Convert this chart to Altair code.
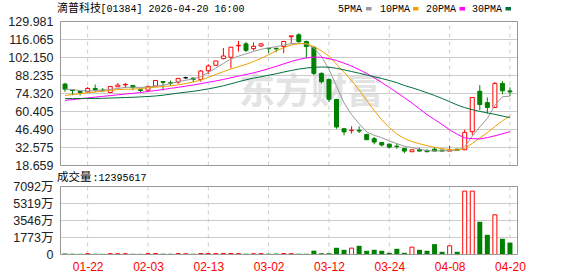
import altair as alt
import pandas as pd

# ---------------- data ----------------
dates = ["01-19", "01-20", "01-21", "01-22", "01-23", "01-26", "01-27", "01-28", "01-29", "01-30",
         "02-02", "02-03", "02-04", "02-05", "02-06", "02-09", "02-10", "02-11", "02-12", "02-13",
         "02-16", "02-20", "02-23", "02-24", "02-25", "02-26", "02-27", "03-02", "03-03", "03-04",
         "03-05", "03-06", "03-09", "03-10", "03-11", "03-12", "03-13", "03-16", "03-17", "03-18",
         "03-19", "03-20", "03-23", "03-24", "03-25", "03-26", "03-27", "03-30", "03-31", "04-01",
         "04-02", "04-08", "04-09", "04-10", "04-13", "04-14", "04-15", "04-16", "04-17", "04-20"]

opens = [81.6, 76.9, 75.9, 75.6, 78.2, 77.0, 75.1, 79.5, 81.0, 80.5,
         77.2, 76.9, 80.0, 83.6, 82.6, 83.1, 86.5, 86.2, 85.2, 91.9,
         96.1, 101.3, 102.3, 111.2, 112.7, 109.0, 111.1, 109.3, 109.3, 110.6,
         118.2, 119.7, 114.5, 110.1, 89.9, 85.2, 69.7, 47.1, 45.6, 45.9,
         42.7, 39.4, 36.5, 35.2, 33.6, 31.9, 29.3, 30.8, 30.3, 31.3,
         30.6, 29.8, 31.3, 30.8, 44.8, 76.1, 67.3, 63.5, 82.1, 76.3]
closes = [77.7, 76.6, 75.1, 78.2, 77.2, 76.6, 79.8, 80.8, 81.4, 79.0,
          76.7, 79.8, 84.4, 82.9, 82.2, 86.0, 86.5, 85.2, 91.7, 95.6,
          99.5, 103.3, 110.1, 111.6, 107.7, 110.8, 112.7, 109.0, 108.8, 114.5,
          118.9, 114.5, 110.6, 89.9, 83.4, 69.9, 48.4, 44.6, 45.9, 45.3,
          38.6, 36.8, 34.5, 32.9, 33.2, 29.8, 30.8, 29.8, 29.3, 29.8,
          29.8, 30.8, 30.3, 44.3, 71.2, 65.8, 63.5, 82.1, 76.4, 75.6]
highs = [82.6, 77.0, 75.9, 79.3, 81.3, 78.5, 80.0, 82.4, 82.4, 80.6,
         77.7, 80.3, 84.4, 83.6, 84.4, 86.0, 87.3, 86.8, 92.5, 96.9,
         99.5, 109.5, 110.1, 115.0, 114.2, 113.7, 113.2, 109.3, 109.3, 115.0,
         118.9, 120.9, 115.2, 110.6, 90.6, 86.0, 70.2, 47.1, 49.0, 49.0,
         42.7, 40.7, 36.5, 35.5, 35.5, 31.9, 30.8, 32.4, 31.3, 32.9,
         30.6, 33.9, 31.3, 46.4, 71.2, 80.8, 71.2, 83.1, 83.9, 79.0]
lows = [75.6, 73.0, 72.8, 75.1, 75.6, 75.9, 74.9, 79.5, 78.7, 76.9,
        75.4, 76.4, 79.8, 76.7, 80.3, 81.8, 85.7, 83.1, 83.4, 89.4,
        96.1, 100.7, 93.8, 106.7, 106.4, 107.5, 110.3, 105.4, 106.2, 105.4,
        112.7, 113.2, 101.5, 88.6, 82.1, 67.9, 47.1, 42.0, 43.3, 43.8,
        38.6, 35.0, 33.4, 31.9, 31.6, 28.2, 29.3, 29.8, 29.3, 29.8,
        29.8, 29.8, 30.3, 30.8, 42.0, 61.4, 58.8, 63.5, 73.8, 72.3]

ma5 = [77.7, 77.4, 76.6, 76.2, 76.6, 76.9, 77.4, 78.2, 79.0, 79.2,
       79.0, 79.3, 80.0, 80.8, 82.0, 83.4, 84.6, 85.5, 87.5, 90.5,
       94.0, 97.5, 101.0, 103.2, 105.0, 106.8, 108.5, 109.6, 110.5, 111.8,
       112.8, 113.3, 112.5, 109.5, 103.0, 93.0, 80.0, 67.0, 58.0, 51.0,
       44.6, 42.0, 40.2, 37.6, 35.6, 33.6, 32.5, 31.3, 30.2, 29.9,
       29.9, 30.1, 30.2, 33.1, 41.3, 48.4, 55.1, 65.2, 71.8, 72.3]
ma10 = [72.8, 73.5, 74.2, 74.9, 75.5, 76.1, 76.7, 77.3, 77.6, 77.7,
        78.1, 78.7, 79.2, 79.7, 80.2, 81.0, 82.0, 83.2, 84.8, 86.8,
        89.0, 91.2, 93.3, 95.0, 96.8, 99.0, 101.5, 104.3, 107.2, 109.8,
        111.8, 112.8, 113.0, 110.5, 107.3, 103.2, 97.0, 90.6, 84.3, 77.1,
        69.0, 61.2, 54.0, 48.0, 43.0, 39.5, 37.2, 35.5, 34.0, 32.7,
        31.7, 31.0, 30.6, 31.9, 35.7, 40.0, 44.0, 48.8, 53.2, 57.0]
ma20 = [69.0, 69.6, 70.2, 70.9, 71.5, 72.1, 72.7, 73.3, 73.9, 74.4,
        75.1, 75.9, 76.6, 77.4, 78.3, 79.1, 80.0, 80.9, 81.9, 83.0,
        84.0, 85.2, 86.5, 87.8, 89.0, 90.3, 91.8, 93.5, 95.3, 97.2,
        99.1, 100.6, 101.8, 102.5, 102.3, 101.3, 99.8, 97.8, 95.5, 92.8,
        89.9, 86.5, 82.8, 79.0, 75.1, 71.1, 67.0, 62.5, 58.0, 54.2,
        50.4, 46.3, 42.8, 40.0, 39.4, 39.2, 40.2, 41.6, 43.2, 44.8]
ma30 = [70.4, 70.4, 70.5, 70.5, 70.5, 70.6, 70.8, 71.0, 71.2, 71.4,
        71.7, 72.0, 72.4, 73.0, 73.8, 74.6, 75.3, 76.0, 76.9, 77.9,
        79.0, 80.3, 81.8, 83.4, 84.9, 86.2, 87.3, 88.4, 89.6, 90.9,
        92.1, 93.2, 94.0, 94.6, 94.8, 94.6, 93.8, 92.6, 91.3, 90.0,
        88.6, 87.3, 85.9, 84.4, 82.7, 80.5, 78.8, 76.9, 74.9, 72.8,
        70.5, 68.0, 65.5, 63.4, 61.8, 60.5, 59.3, 58.2, 56.9, 55.6]

volumes = [95, 80, 70, 85, 75, 70, 90, 80, 85, 75,
           70, 90, 95, 85, 80, 90, 75, 80, 100, 95,
           90, 110, 100, 90, 85, 80, 90, 85, 95, 100,
           90, 85, 80, 400, 130, 130, 700, 490, 664, 907,
           386, 490, 386, 177, 595, 177, 768, 490, 386, 1082,
           282, 907, 282, 6612, 6612, 3411, 2055, 4142, 1638, 1239.5617]  # 万

price_ticks = [18.659, 32.575, 46.490, 60.405, 74.320, 88.235, 102.150, 116.065, 129.981]
volume_ticks = [0, 1773, 3546, 5319, 7092]
x_tick_idx = [3, 11, 19, 27, 35, 43, 51, 59]

title_name = "滴普科技"
title_rest = "[01384] 2026-04-20 16:00"
vol_label_cn = "成交量"
vol_label_num = ":12395617"
ma_names = ["5PMA", "10PMA", "20PMA", "30PMA"]
watermark = "东方财富"

# ---------------- styles / layout ----------------
RED, GREEN, BLACK = "#ff0000", "#008000", "#000000"
MA_COLORS = ["#999999", "#f0a000", "#ff00ff", "#00703c"]
GRID = "#cccccc"
FRAME = "#999999"
X_MIN, X_MAX = -0.6, 60.0
X_RANGE = [55.5, 522.5]
P_RANGE = [165.5, 21.5]
V_RANGE = [254.5, 186.5]
P_DOM = [price_ticks[0], price_ticks[-1]]
V_DOM = [volume_ticks[0], volume_ticks[-1]]
LEGEND_TEXT_X = [338, 380, 426, 472]
LEGEND_BOX_X = [366, 413, 459.5, 505.5]

n = len(dates)
df = pd.DataFrame({"i": list(range(n)), "open": opens, "close": closes, "high": highs,
                   "low": lows, "ma5": ma5, "ma10": ma10, "ma20": ma20, "ma30": ma30,
                   "vol": volumes})
df["dir"] = ["up" if c > o else ("down" if c < o else "flat") for o, c in zip(opens, closes)]

x_scale = alt.Scale(domain=[X_MIN, X_MAX], range=X_RANGE, nice=False, zero=False)
py_scale = alt.Scale(domain=P_DOM, range=P_RANGE, nice=False, zero=False)
vy_scale = alt.Scale(domain=V_DOM, range=V_RANGE, nice=False, zero=False)

label_expr = " : ".join(f"datum.value == {k} ? '{dates[k]}'" for k in x_tick_idx) + " : ''"
x_axis = alt.Axis(values=x_tick_idx, labelExpr=label_expr, orient="bottom", offset=-21,
                  domain=False, ticks=False, grid=False, labelColor=RED,
                  labelFont="Liberation Sans", labelFontSize=12, labelPadding=6, title=None,
                  labelFlush=False, labelOverlap=False, labelBound=False)
py_axis = alt.Axis(values=price_ticks, format=".3f", orient="left", offset=-55,
                   domain=False, ticks=False, grid=False, labelColor="#222222",
                   labelFont="Liberation Sans", labelFontSize=12.5, labelPadding=2, title=None,
                   labelFlush=False, labelOverlap=False, labelBound=False)
vy_axis = alt.Axis(values=volume_ticks, labelExpr="datum.value == 0 ? '0' : datum.value + '万'",
                   orient="left", offset=-55, domain=False, ticks=False, grid=False,
                   labelColor="#222222", labelFont="Liberation Sans, Noto Sans CJK SC",
                   labelFontSize=12.5, labelPadding=2, title=None,
                   labelFlush=False, labelOverlap=False, labelBound=False)


def X(f):
    return alt.X(f, type="quantitative", scale=x_scale, axis=x_axis)


def PY(f):
    return alt.Y(f, type="quantitative", scale=py_scale, axis=py_axis)


def VY(f):
    return alt.Y(f, type="quantitative", scale=vy_scale, axis=vy_axis)


one = pd.DataFrame({"a": [0]})
frame_p = pd.DataFrame({"x0": [X_MIN], "x1": [X_MAX], "y0": [P_DOM[0]], "y1": [P_DOM[1]]})
frame_v = pd.DataFrame({"x0": [X_MIN], "x1": [X_MAX], "y0": [V_DOM[0]], "y1": [V_DOM[1]]})
hgrid_p = pd.DataFrame({"y": price_ticks[1:-1], "x0": X_MIN, "x1": X_MAX})
hgrid_v = pd.DataFrame({"y": volume_ticks[1:-1], "x0": X_MIN, "x1": X_MAX})
vgrid_p = pd.DataFrame({"x": x_tick_idx, "y0": P_DOM[0], "y1": P_DOM[1]})
vgrid_v = pd.DataFrame({"x": x_tick_idx, "y0": V_DOM[0], "y1": V_DOM[1]})

# ---------------- price panel ----------------
wm = alt.Chart(one).mark_text(font="Noto Sans CJK SC", fontSize=36, fontWeight="bold",
                              color="#e3e3e3", align="center", baseline="middle").encode(
    x=alt.value(311), y=alt.value(93), text=alt.value(watermark))

p_hgrid = alt.Chart(hgrid_p).mark_rule(color=GRID, strokeWidth=1).encode(
    x=X("x0"), x2="x1", y=PY("y"))
p_vgrid = alt.Chart(vgrid_p).mark_rule(color=GRID, strokeWidth=1, strokeDash=[4, 4]).encode(
    x=X("x"), y=PY("y0"), y2="y1")

dir_stroke = alt.Stroke("dir:N", scale=alt.Scale(domain=["up", "down", "flat"],
                                                 range=[RED, GREEN, BLACK]), legend=None)
wicks = alt.Chart(df).mark_rule(strokeWidth=1).encode(
    x=X("i"), y=PY("low"), y2="high", stroke=dir_stroke)
body_up = alt.Chart(df).transform_filter("datum.dir == 'up'").mark_bar(
    orient="vertical", size=4, fill="white", stroke=RED, strokeWidth=1).encode(
    x=X("i"), y=PY("open"), y2="close")
body_dn = alt.Chart(df).transform_filter("datum.dir == 'down'").mark_bar(
    orient="vertical", size=4, fill=GREEN, stroke=GREEN, strokeWidth=1).encode(
    x=X("i"), y=PY("open"), y2="close")
body_fl = alt.Chart(df).transform_filter("datum.dir == 'flat'").mark_bar(
    orient="vertical", size=4, fill=BLACK, stroke=BLACK, strokeWidth=1).encode(
    x=X("i"), y=PY("open"), y2="close")

ma_layers = [alt.Chart(df).mark_line(color=c, strokeWidth=1, interpolate="linear").encode(
    x=X("i"), y=PY(f)) for f, c in zip(["ma5", "ma10", "ma20", "ma30"], MA_COLORS)]

p_frame = alt.Chart(frame_p).mark_rect(fillOpacity=0, stroke=FRAME, strokeWidth=1).encode(
    x=X("x0"), x2="x1", y=PY("y0"), y2="y1")

title1 = alt.Chart(one).mark_text(font="Noto Sans CJK SC", fontSize=11, color=BLACK,
                                  align="left", baseline="middle").encode(
    x=alt.value(57), y=alt.value(8.5), text=alt.value(title_name))
title2 = alt.Chart(one).mark_text(font="Liberation Mono", fontSize=10, color=BLACK,
                                  align="left", baseline="middle").encode(
    x=alt.value(100.5), y=alt.value(8.5), text=alt.value(title_rest))

legend_layers = []
for name, col, tx, bx in zip(ma_names, MA_COLORS, LEGEND_TEXT_X, LEGEND_BOX_X):
    legend_layers.append(alt.Chart(one).mark_text(
        font="Liberation Mono", fontSize=10, color=BLACK, align="left", baseline="middle").encode(
        x=alt.value(tx), y=alt.value(8.5), text=alt.value(name)))
    legend_layers.append(alt.Chart(one).mark_rect(color=col).encode(
        x=alt.value(bx), x2=alt.value(bx + 5.5), y=alt.value(7), y2=alt.value(10.5)))

price = alt.layer(wm, p_hgrid, p_vgrid, wicks, body_up, body_dn, body_fl, *ma_layers,
                  p_frame, title1, title2, *legend_layers)

# ---------------- volume panel ----------------
v_hgrid = alt.Chart(hgrid_v).mark_rule(color=GRID, strokeWidth=1).encode(
    x=X("x0"), x2="x1", y=VY("y"))
v_vgrid = alt.Chart(vgrid_v).mark_rule(color=GRID, strokeWidth=1, strokeDash=[4, 4]).encode(
    x=X("x"), y=VY("y0"), y2="y1")
vol_up = alt.Chart(df).transform_filter("datum.dir != 'down'").mark_bar(
    orient="vertical", size=4, fill="white", stroke=RED, strokeWidth=1).encode(
    x=X("i"), y=VY("vol"))
vol_dn = alt.Chart(df).transform_filter("datum.dir == 'down'").mark_bar(
    orient="vertical", size=5, fill=GREEN).encode(
    x=X("i"), y=VY("vol"))
v_frame = alt.Chart(frame_v).mark_rect(fillOpacity=0, stroke=FRAME, strokeWidth=1).encode(
    x=X("x0"), x2="x1", y=VY("y0"), y2="y1")
vlab1 = alt.Chart(one).mark_text(font="Noto Sans CJK SC", fontSize=11.5, color=BLACK,
                                 align="left", baseline="middle").encode(
    x=alt.value(57), y=alt.value(177.5), text=alt.value(vol_label_cn))
vlab2 = alt.Chart(one).mark_text(font="Liberation Mono", fontSize=10, color=BLACK,
                                 align="left", baseline="middle").encode(
    x=alt.value(92.5), y=alt.value(177.5), text=alt.value(vol_label_num))

volume = alt.layer(v_hgrid, v_vgrid, vol_up, vol_dn, v_frame, vlab1, vlab2)

chart = (alt.layer(price, volume)
         .resolve_scale(y="independent")
         .resolve_axis(y="independent")
         .properties(width=578, height=276, padding=0, background="white",
                     autosize=alt.AutoSizeParams(type="none"))
         .configure_view(stroke=None))

chart.save("out.html", embed_options={"renderer": "svg", "actions": False})
